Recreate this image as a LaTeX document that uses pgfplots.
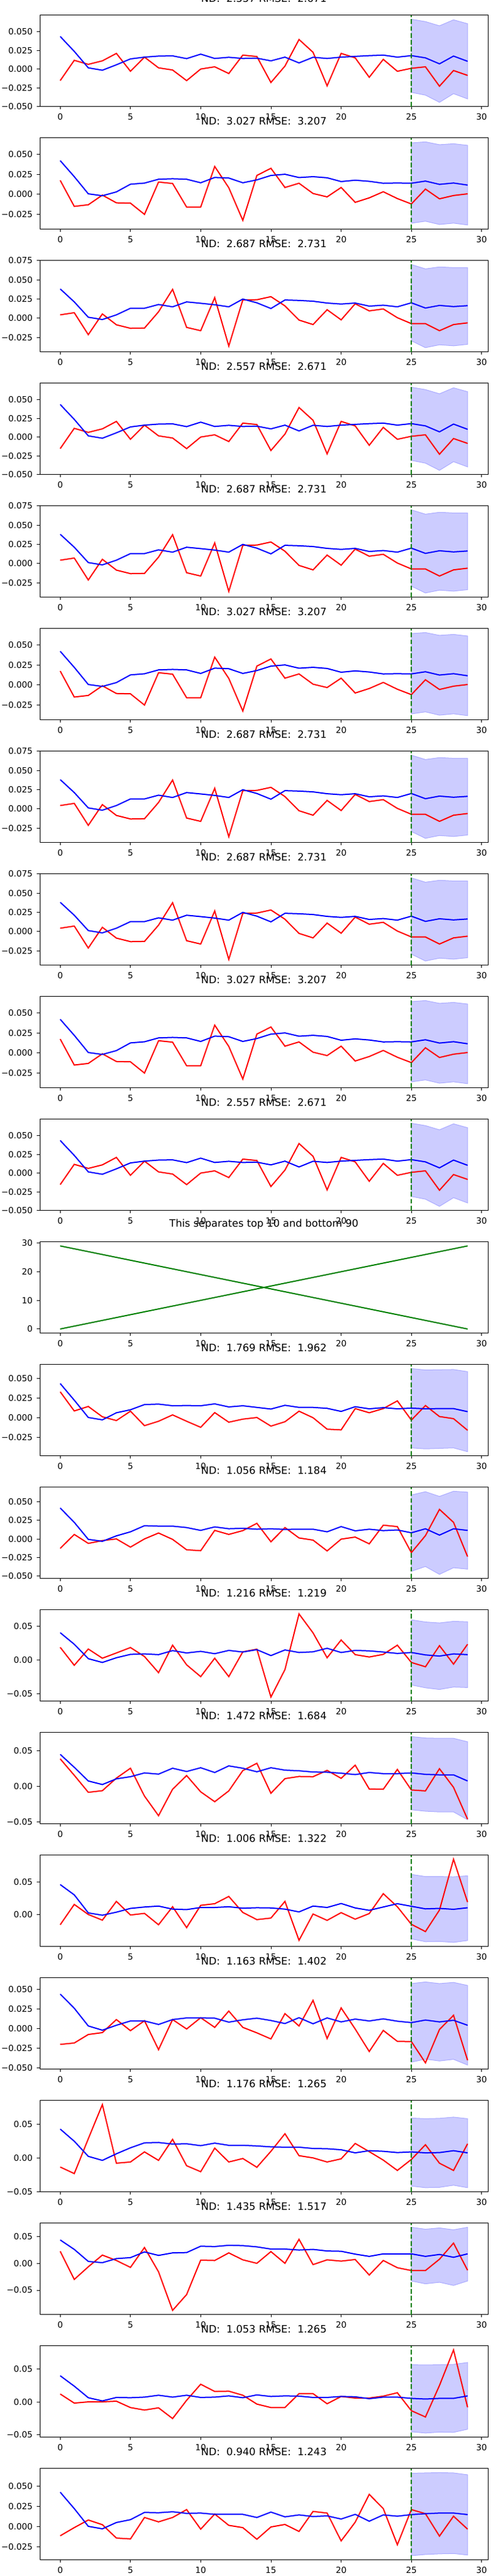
\documentclass[border=0pt]{standalone}
\usepackage{pgfplots}
\pgfplotsset{compat=1.18}
\usepackage{pgfplotstable}
\usepgfplotslibrary{groupplots}
\usepackage{fontspec}
\setmainfont{DejaVu Sans}
\definecolor{bandfill}{RGB}{204,204,255}
\definecolor{bandedge}{RGB}{170,170,255}
\definecolor{mgreen}{RGB}{0,128,0}

\pgfplotstableread{
x r b
0 -0.0155 0.0437
1 0.0117 0.0237
2 0.0063 0.0016
3 0.011 -0.0016
4 0.021 0.0057
5 -0.003 0.0136
6 0.016 0.016
7 0.0016 0.0174
8 -0.0013 0.0177
9 -0.0155 0.014
10 0.0 0.02
11 0.003 0.0142
12 -0.006 0.0158
13 0.0187 0.0142
14 0.0168 0.0146
15 -0.018 0.011
16 0.004 0.016
17 0.0396 0.0082
18 0.0225 0.0158
19 -0.0225 0.0142
20 0.021 0.016
21 0.015 0.017
22 -0.011 0.018
23 0.013 0.0187
24 -0.003 0.016
25 0.001 0.018
26 0.003 0.015
27 -0.023 0.007
28 -0.002 0.0174
29 -0.0085 0.0104
}\tA
\pgfplotstableread{
x y
25 0.0668
26 0.0636
27 0.058
28 0.066
29 0.0608
29 -0.040
28 -0.033
27 -0.0446
26 -0.035
25 -0.0313
}\bA

\pgfplotstableread{
x r b
0 0.0174 0.042
1 -0.015 0.022
2 -0.013 0.0006
3 -0.001 -0.0018
4 -0.0106 0.003
5 -0.011 0.0126
6 -0.025 0.014
7 0.0153 0.0188
8 0.0135 0.0194
9 -0.0159 0.0188
10 -0.0159 0.0144
11 0.0347 0.021
12 0.0082 0.0203
13 -0.0324 0.0144
14 0.0235 0.018
15 0.0324 0.0235
16 0.0085 0.025
17 0.0138 0.0209
18 0.001 0.022
19 -0.0032 0.0206
20 0.0085 0.0159
21 -0.01 0.0176
22 -0.0044 0.0162
23 0.0032 0.0138
24 -0.0053 0.0141
25 -0.012 0.0138
26 0.0065 0.0165
27 -0.0056 0.0124
28 -0.0015 0.0141
29 0.0006 0.0115
}\tB
\pgfplotstableread{
x y
25 0.064
26 0.0653
27 0.0618
28 0.063
29 0.061
29 -0.0382
28 -0.0359
27 -0.0376
26 -0.0335
25 -0.036
}\bB

\pgfplotstableread{
x r b
0 0.0043 0.0381
1 0.0071 0.0212
2 -0.0215 0.0012
3 0.0055 -0.0018
4 -0.0086 0.0043
5 -0.0132 0.0129
6 -0.0129 0.0129
7 0.0083 0.0178
8 0.0375 0.0148
9 -0.012 0.0212
10 -0.0163 0.0194
11 0.0267 0.0175
12 -0.0363 0.0148
13 0.0237 0.0249
14 0.024 0.02
15 0.028 0.0126
16 0.016 0.0237
17 -0.0025 0.0231
18 -0.0083 0.0221
19 0.011 0.0197
20 -0.0022 0.0184
21 0.0188 0.0197
22 0.0095 0.0157
23 0.012 0.0169
24 0.0006 0.0148
25 -0.0071 0.02
26 -0.0071 0.0132
27 -0.0163 0.0166
28 -0.0083 0.0151
29 -0.0061 0.0163
}\tC
\pgfplotstableread{
x y
25 0.0698
26 0.0642
27 0.0667
28 0.0658
29 0.0658
29 -0.0341
28 -0.036
27 -0.0347
26 -0.0384
25 -0.0295
}\bC

\pgfplotstableread{
x r b
0 0.033 0.0435
1 0.0086 0.0223
2 0.0143 0.0003
3 0.0012 -0.0027
4 -0.0036 0.0063
5 0.0083 0.0101
6 -0.0101 0.0167
7 -0.0045 0.0173
8 0.0036 0.0152
9 -0.0045 0.0155
10 -0.0122 0.0152
11 0.0065 0.0176
12 -0.0057 0.0137
13 -0.0018 0.0152
14 0.0003 0.0131
15 -0.0107 0.011
16 -0.0051 0.0158
17 0.0083 0.0131
18 0.0 0.0131
19 -0.0146 0.0119
20 -0.0155 0.008
21 0.0116 0.014
22 0.0063 0.0113
23 0.0116 0.0128
24 0.0214 0.0113
25 -0.003 0.0122
26 0.0155 0.0113
27 0.0015 0.0116
28 -0.0012 0.0116
29 -0.016 0.0077
}\tL
\pgfplotstableread{
x y
25 0.0625
26 0.0607
27 0.061
28 0.0613
29 0.0586
29 -0.0432
28 -0.0384
27 -0.039
26 -0.0396
25 -0.0384
}\bL

\pgfplotstableread{
x r b
0 -0.0127 0.0415
1 0.006 0.0222
2 -0.006 -0.0006
3 -0.0022 -0.0032
4 0.0 0.0041
5 -0.011 0.0095
6 0.0 0.0177
7 0.0079 0.0171
8 -0.0006 0.0171
9 -0.0146 0.0152
10 -0.0158 0.0114
11 0.0114 0.0161
12 0.006 0.0136
13 0.0111 0.0142
14 0.0209 0.013
15 -0.0038 0.0136
16 0.0152 0.0127
17 0.0013 0.013
18 -0.0016 0.013
19 -0.0161 0.0095
20 -0.0003 0.0165
21 0.0025 0.0108
22 -0.0066 0.013
23 0.0184 0.0111
24 0.0165 0.012
25 -0.0184 0.0082
26 0.0044 0.0136
27 0.0396 0.0051
28 0.0222 0.0136
29 -0.0237 0.0114
}\tM
\pgfplotstableread{
x y
25 0.0589
26 0.0633
27 0.057
28 0.0639
29 0.0627
29 -0.0405
28 -0.0386
27 -0.0475
26 -0.037
25 -0.0434
}\bM

\pgfplotstableread{
x r b
0 0.019 0.0408
1 -0.0077 0.0236
2 0.0165 0.0021
3 0.0028 -0.0035
4 0.0106 0.0035
5 0.0187 0.0085
6 0.0053 0.0092
7 -0.0187 0.0081
8 0.0222 0.0141
9 -0.007 0.0106
10 -0.0246 0.013
11 0.0028 0.0095
12 -0.0246 0.0144
13 0.0123 0.012
14 0.0162 0.0155
15 -0.0549 0.0067
16 -0.0141 0.0151
17 0.0687 0.0113
18 0.0405 0.0123
19 0.0035 0.0176
20 0.0299 0.0113
21 0.0081 0.0144
22 0.0046 0.0137
23 0.0085 0.012
24 0.0222 0.0099
25 -0.0035 0.0113
26 -0.0099 0.0077
27 0.0215 0.006
28 -0.006 0.0092
29 0.0236 0.0081
}\tN
\pgfplotstableread{
x y
25 0.0599
26 0.0567
27 0.0553
28 0.0577
29 0.057
29 -0.0408
28 -0.0401
27 -0.0437
26 -0.0412
25 -0.037
}\bN

\pgfplotstableread{
x r b
0 0.0387 0.045
1 0.0156 0.0268
2 -0.0083 0.0076
3 -0.006 0.0026
4 0.0116 0.0106
5 0.0255 0.0136
6 -0.0136 0.0189
7 -0.0411 0.0172
8 -0.004 0.0255
9 0.0152 0.0209
10 -0.0076 0.0262
11 -0.0215 0.0195
12 -0.0063 0.0288
13 0.0222 0.0255
14 0.0325 0.0205
15 -0.0096 0.0262
16 0.0109 0.0228
17 0.0139 0.0219
18 0.0136 0.0202
19 0.0225 0.0199
20 0.0113 0.0185
21 0.0298 0.0166
22 -0.0036 0.0195
23 -0.004 0.0179
24 0.0238 0.0179
25 -0.005 0.0189
26 -0.0063 0.0169
27 0.0248 0.0162
28 -0.0013 0.0162
29 -0.046 0.0076
}\tO
\pgfplotstableread{
x y
25 0.0699
26 0.0679
27 0.0675
28 0.0675
29 0.0626
29 -0.0467
28 -0.0358
27 -0.0358
26 -0.0348
25 -0.0328
}\bO

\pgfplotstableread{
x r b
0 -0.0152 0.0457
1 0.0156 0.0301
2 0.0004 0.0028
3 -0.0082 -0.0007
4 0.0202 0.0039
5 -0.0004 0.0096
6 0.0021 0.0117
7 -0.0152 0.0131
8 0.0121 0.0085
9 -0.0195 0.0078
10 0.0142 0.011
11 0.0167 0.011
12 0.0277 0.0121
13 0.0035 0.0099
14 -0.0074 0.0106
15 -0.005 0.0103
16 0.0202 0.0085
17 -0.0387 0.0043
18 0.0011 0.0131
19 -0.0085 0.011
20 0.0032 0.017
21 -0.0067 0.0103
22 0.0018 0.0067
23 0.0319 0.0117
24 0.0121 0.0167
25 -0.0145 0.0128
26 -0.0255 0.0089
27 0.0071 0.0096
28 0.084 0.0082
29 0.0191 0.0106
}\tP
\pgfplotstableread{
x y
25 0.061
26 0.0578
27 0.0578
28 0.0574
29 0.0589
29 -0.039
28 -0.0418
27 -0.0404
26 -0.0408
25 -0.0365
}\bP

\pgfplotstableread{
x r b
0 -0.0203 0.0442
1 -0.0185 0.026
2 -0.0076 0.0033
3 -0.0052 -0.0021
4 0.0115 0.0042
5 -0.0027 0.0097
6 0.01 0.0097
7 -0.027 0.0052
8 0.0115 0.0115
9 -0.0006 0.0136
10 0.0139 0.0136
11 0.0015 0.0133
12 0.0224 0.0082
13 0.0015 0.0112
14 -0.0055 0.0133
15 -0.0133 0.0103
16 0.0191 0.0064
17 0.0033 0.0139
18 0.0361 0.0061
19 -0.0127 0.0136
20 0.0264 0.0085
21 -0.0006 0.0121
22 -0.0294 0.0097
23 -0.0024 0.0124
24 -0.0164 0.0094
25 -0.0167 0.0076
26 -0.0439 0.0109
27 -0.0012 0.0085
28 0.017 0.0106
29 -0.0406 0.0042
}\tQ
\pgfplotstableread{
x y
25 0.0576
26 0.0597
27 0.0576
28 0.0591
29 0.0552
29 -0.0467
28 -0.0394
27 -0.0415
26 -0.0391
25 -0.043
}\bQ

\pgfplotstableread{
x r b
0 -0.0136 0.043
1 -0.0234 0.0248
2 0.0285 0.0023
3 0.0794 -0.0037
4 -0.0079 0.0061
5 -0.0061 0.015
6 0.0089 0.0224
7 -0.0037 0.0229
8 0.0276 0.0206
9 -0.0117 0.021
10 -0.0206 0.0182
11 0.0145 0.022
12 -0.0061 0.0187
13 -0.0009 0.0187
14 -0.014 0.0178
15 0.0098 0.0164
16 0.036 0.0159
17 0.0033 0.0159
18 0.0 0.014
19 -0.0061 0.0136
20 -0.0014 0.0121
21 0.0215 0.0075
22 0.0093 0.0107
23 -0.0033 0.0098
24 -0.0187 0.0079
25 -0.0023 0.0089
26 0.0196 0.0075
27 -0.0079 0.0079
28 -0.0187 0.0107
29 0.021 0.0075
}\tR
\pgfplotstableread{
x y
25 0.0593
26 0.0584
27 0.0589
28 0.0607
29 0.0584
29 -0.0444
28 -0.0407
27 -0.0439
26 -0.0444
25 -0.042
}\bR

\pgfplotstableread{
x r b
0 0.0224 0.0435
1 -0.03 0.0259
2 -0.0065 0.0035
3 0.0153 0.0012
4 0.0053 0.0088
5 -0.0076 0.0106
6 0.0294 0.0212
7 -0.0159 0.0147
8 -0.0876 0.0194
9 -0.0582 0.02
10 0.0059 0.0318
11 0.0053 0.0312
12 0.0194 0.0335
13 0.0065 0.0329
14 0.0 0.0306
15 0.0218 0.0265
16 0.0 0.0265
17 0.0447 0.0247
18 -0.0024 0.0259
19 0.0065 0.0229
20 0.0041 0.0224
21 0.0071 0.0171
22 -0.0218 0.0129
23 0.0053 0.0176
24 -0.0082 0.0176
25 -0.0135 0.0176
26 -0.0135 0.0129
27 0.0076 0.0165
28 0.0376 0.0112
29 -0.0129 0.0176
}\tS
\pgfplotstableread{
x y
25 0.0671
26 0.0635
27 0.0659
28 0.0624
29 0.0671
29 -0.0329
28 -0.0412
27 -0.0353
26 -0.0382
25 -0.0329
}\bS

\pgfplotstableread{
x r b
0 0.012 0.0399
1 -0.0019 0.024
2 0.0 0.0063
3 0.0 0.0014
4 0.001 0.0067
5 -0.0087 0.0063
6 -0.0125 0.0072
7 -0.0091 0.0101
8 -0.0255 0.0072
9 0.0024 0.0101
10 0.0269 0.0067
11 0.0159 0.0072
12 0.0163 0.0091
13 0.0101 0.0063
14 -0.0034 0.0106
15 -0.0087 0.0082
16 -0.0087 0.0091
17 0.0125 0.0087
18 0.0125 0.0067
19 -0.0029 0.0067
20 0.0082 0.0082
21 0.0058 0.0077
22 0.0058 0.0048
23 0.0087 0.0072
24 0.0139 0.0072
25 -0.0135 0.0053
26 -0.0231 0.0043
27 0.025 0.0053
28 0.0793 0.0053
29 -0.0082 0.0091
}\tT
\pgfplotstableread{
x y
25 0.0567
26 0.0563
27 0.0567
28 0.0572
29 0.0601
29 -0.0418
28 -0.0466
27 -0.0462
26 -0.0476
25 -0.0457
}\bT

\pgfplotstableread{
x r b
0 -0.0117 0.0422
1 -0.0016 0.0219
2 0.0078 0.0
3 0.002 -0.0031
4 -0.0145 0.0047
5 -0.0156 0.0082
6 0.0109 0.0172
7 0.0055 0.0168
8 0.0109 0.018
9 0.0207 0.016
10 -0.0035 0.0164
11 0.0152 0.0148
12 0.0012 0.0148
13 -0.0016 0.0148
14 -0.016 0.0109
15 -0.0008 0.0176
16 0.0023 0.0117
17 -0.0063 0.0141
18 0.0184 0.0121
19 0.0164 0.0129
20 -0.018 0.009
21 0.0051 0.0148
22 0.0395 0.0063
23 0.0219 0.0141
24 -0.0227 0.0125
25 0.0207 0.0145
26 0.0156 0.0156
27 -0.0121 0.0164
28 0.0125 0.0164
29 -0.0035 0.0145
}\tU
\pgfplotstableread{
x y
25 0.0656
26 0.066
27 0.0664
28 0.066
29 0.0637
29 -0.0355
28 -0.0336
27 -0.034
26 -0.0348
25 -0.0363
}\bU

\pgfplotsset{
  fine/.style={ytick={-0.075,-0.05,-0.025,0,0.025,0.05,0.075},
    yticklabels={−0.075,−0.050,−0.025,0.000,0.025,0.050,0.075}},
  coarse/.style={ytick={-0.1,-0.05,0,0.05,0.1},
    yticklabels={−0.10,−0.05,0.00,0.05,0.10}},
}
\newcommand\pnl[4]{%
  \nextgroupplot[title={#1},#4]
  \addplot[fill=bandfill,draw=bandedge,line width=0.5pt] table[x=x,y=y]{#3} -- cycle;
  \addplot[red,line width=1pt] table[x=x,y=r]{#2};
  \addplot[blue,line width=1pt] table[x=x,y=b]{#2};
  \draw[mgreen,line width=1pt,dash pattern=on 3.9pt off 1.7pt]
    ({axis cs:25,0}|-{rel axis cs:0,0}) -- ({axis cs:25,0}|-{rel axis cs:0,1});
}

\begin{document}
\begin{tikzpicture}
\begin{groupplot}[
  group style={group name=G, group size=1 by 21, vertical sep=25.5pt},
  width=365.5pt, height=74.5pt, scale only axis,
  xmin=-1.45, xmax=30.45, xtick={0,5,...,30},
  enlarge y limits=0.05,
  scaled y ticks=false, scaled x ticks=false,
  tick align=outside, major tick length=2.4pt,
  xtick pos=bottom, ytick pos=left,
  tick style={black, line width=0.4pt},
  axis line style={line width=0.4pt},
  ticklabel style={font=\fontsize{6.9}{8}\selectfont},
  /pgf/number format/assume math mode=true,
  title style={font=\fontsize{8.3}{10}\selectfont, inner sep=0pt, anchor=south, at={(0.5,1)}, yshift=4.3pt},
  every axis plot/.append style={mark=none},
  clip=true,
]
\pnl{ND:~~2.557 RMSE:~~2.671}{\tA}{\bA}{fine}
\pnl{ND:~~3.027 RMSE:~~3.207}{\tB}{\bB}{fine}
\pnl{ND:~~2.687 RMSE:~~2.731}{\tC}{\bC}{fine}
\pnl{ND:~~2.557 RMSE:~~2.671}{\tA}{\bA}{fine}
\pnl{ND:~~2.687 RMSE:~~2.731}{\tC}{\bC}{fine}
\pnl{ND:~~3.027 RMSE:~~3.207}{\tB}{\bB}{fine}
\pnl{ND:~~2.687 RMSE:~~2.731}{\tC}{\bC}{fine}
\pnl{ND:~~2.687 RMSE:~~2.731}{\tC}{\bC}{fine}
\pnl{ND:~~3.027 RMSE:~~3.207}{\tB}{\bB}{fine}
\pnl{ND:~~2.557 RMSE:~~2.671}{\tA}{\bA}{fine}
\nextgroupplot[title={This separates top 10 and bottom 90}, ytick={0,10,20,30}]
\addplot[mgreen,line width=1pt] coordinates {(0,0) (29,29)};
\addplot[mgreen,line width=1pt] coordinates {(0,29) (29,0)};
\pnl{ND:~~1.769 RMSE:~~1.962}{\tL}{\bL}{fine}
\pnl{ND:~~1.056 RMSE:~~1.184}{\tM}{\bM}{fine}
\pnl{ND:~~1.216 RMSE:~~1.219}{\tN}{\bN}{coarse}
\pnl{ND:~~1.472 RMSE:~~1.684}{\tO}{\bO}{coarse}
\pnl{ND:~~1.006 RMSE:~~1.322}{\tP}{\bP}{coarse}
\pnl{ND:~~1.163 RMSE:~~1.402}{\tQ}{\bQ}{fine}
\pnl{ND:~~1.176 RMSE:~~1.265}{\tR}{\bR}{coarse}
\pnl{ND:~~1.435 RMSE:~~1.517}{\tS}{\bS}{coarse}
\pnl{ND:~~1.053 RMSE:~~1.265}{\tT}{\bT}{coarse}
\pnl{ND:~~0.940 RMSE:~~1.243}{\tU}{\bU}{fine}
\end{groupplot}
\pgfresetboundingbox
\path (G c1r1.north west) ++(-32.5pt,12.3pt) rectangle ++(400pt,-2100pt);
\end{tikzpicture}
\end{document}
